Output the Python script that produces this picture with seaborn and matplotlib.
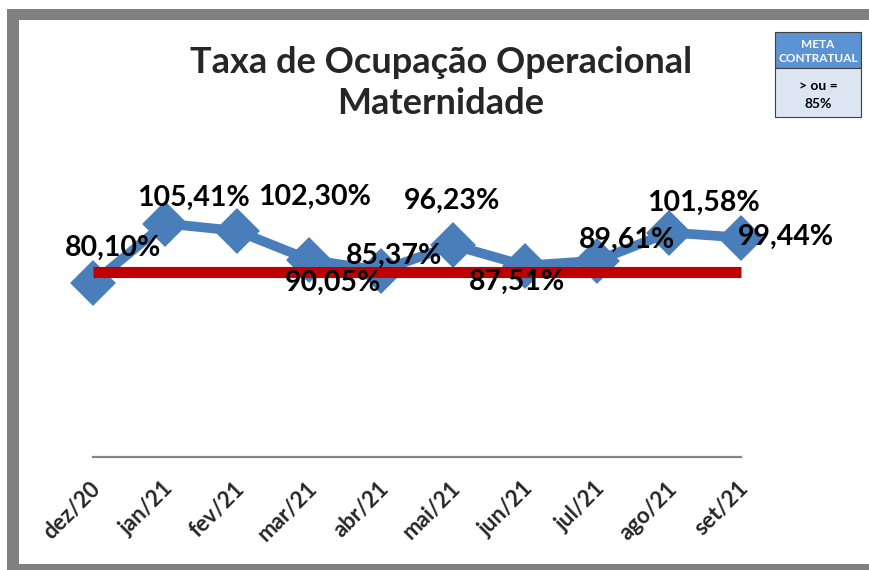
import numpy as np
import pandas as pd
import matplotlib
matplotlib.use("Agg")
import matplotlib.pyplot as plt
import matplotlib.transforms as mtransforms
from matplotlib.patches import Rectangle
import seaborn as sns

# ---------------------------------
# data
months = ['dez/20', 'jan/21', 'fev/21', 'mar/21', 'abr/21',
          'mai/21', 'jun/21', 'jul/21', 'ago/21', 'set/21']
taxa = [80.10, 105.41, 102.30, 90.05, 85.37, 96.23, 87.51, 89.61, 101.58, 99.44]
meta = 85
meta_label = ['META', 'CONTRATUAL']
meta_text = ['> ou =', '85%']
title = 'Taxa de Ocupação Operacional\nMaternidade'

# label offsets in pixels (manual placement like the original sheet)
label_dx = [20, 28, 78, 24, 13, -1, -8, 30, 34, 45]
label_dy = [35, 26, 34, -23, 15, 44, -16, 21, 30, 1]

df = pd.DataFrame({'pos': np.arange(len(months)), 'mes': months, 'taxa': taxa})
df['meta'] = meta

sns.set_theme(style='white')
plt.rcParams['font.family'] = ['Lato', 'DejaVu Sans']

W, H = 869, 570
fig = plt.figure(figsize=(W / 100, H / 100), dpi=100)

# gray frame like the excel chart border
gray = '#808080'
fig.add_artist(Rectangle((7 / W, 1 - 20 / H), 1, 11 / H, transform=fig.transFigure,
                         color=gray, lw=0))
fig.add_artist(Rectangle((7 / W, 0), 12 / W, 1 - 9 / H, transform=fig.transFigure,
                         color=gray, lw=0))
fig.add_artist(Rectangle((7 / W, 0), 1, 6 / H, transform=fig.transFigure,
                         color=gray, lw=0))

# axes: 85% sits at pixel 271.5, 2.35 px per unit
px_unit = 2.35
y_bottom_px, y_top_px = 457, 150
ax = fig.add_axes([93 / W, (H - y_bottom_px) / H, (741 - 93) / W, (y_bottom_px - y_top_px) / H])
ymin = meta - (y_bottom_px - 271.5) / px_unit
ymax = meta + (271.5 - y_top_px) / px_unit
ax.set_ylim(ymin, ymax)
ax.set_xlim(0, len(months) - 1)

sns.lineplot(data=df, x='pos', y='taxa', ax=ax, color='#4A7EBB', lw=7,
             marker='D', markersize=20, markeredgewidth=3, markeredgecolor='#4A7EBB',
             clip_on=False, zorder=2)
sns.lineplot(data=df, x='pos', y='meta', ax=ax, color='#C00000', lw=8,
             solid_capstyle='butt', clip_on=False, zorder=3)

for i, v in enumerate(taxa):
    ax.annotate(f'{v:.2f}%'.replace('.', ','), (i, v), xytext=(label_dx[i], label_dy[i]),
                textcoords='offset pixels', ha='center', va='center',
                fontsize=20.5, fontweight='bold', color='black', zorder=5,
                annotation_clip=False)

sns.despine(ax=ax, left=True)
ax.spines['bottom'].set_color('#868686')
ax.spines['bottom'].set_linewidth(1.6)
ax.set_yticks([])
ax.set_xticks(df['pos'])
ax.set_xticklabels(months, rotation=45, ha='right', va='top', rotation_mode='anchor',
                   fontsize=16, fontweight='bold')
ax.tick_params(axis='x', length=0, pad=15)
offset = mtransforms.ScaledTranslation(-3 / 100, 0, fig.dpi_scale_trans)
for lab in ax.get_xticklabels():
    lab.set_transform(lab.get_transform() + offset)
ax.set_xlabel('')
ax.set_ylabel('')
ax.set_facecolor('none')

fig.text(441 / W, 1 - 83 / H, title, ha='center', va='center', fontsize=26,
         fontweight='bold', linespacing=1.3)

# meta contratual box
bx0, bx1, by0, bmid, by1 = 775, 861, 32, 68, 117
fig.add_artist(Rectangle((bx0 / W, 1 - bmid / H), (bx1 - bx0) / W, (bmid - by0) / H,
                         transform=fig.transFigure, facecolor='#5B93D3',
                         edgecolor='#404040', lw=0.8))
fig.add_artist(Rectangle((bx0 / W, 1 - by1 / H), (bx1 - bx0) / W, (by1 - bmid) / H,
                         transform=fig.transFigure, facecolor='#DCE6F2',
                         edgecolor='#404040', lw=0.8))
cx = (bx0 + bx1) / 2 / W
fig.text(cx, 1 - 44 / H, meta_label[0], ha='center', va='center', fontsize=8.5,
         fontweight='bold', color='white')
fig.text(cx, 1 - 59 / H, meta_label[1], ha='center', va='center', fontsize=8.5,
         fontweight='bold', color='white')
fig.text(cx, 1 - 86 / H, meta_text[0], ha='center', va='center', fontsize=10,
         fontweight='bold', color='black')
fig.text(cx, 1 - 104 / H, meta_text[1], ha='center', va='center', fontsize=10,
         fontweight='bold', color='black')

fig.savefig('out.png', dpi=100)
